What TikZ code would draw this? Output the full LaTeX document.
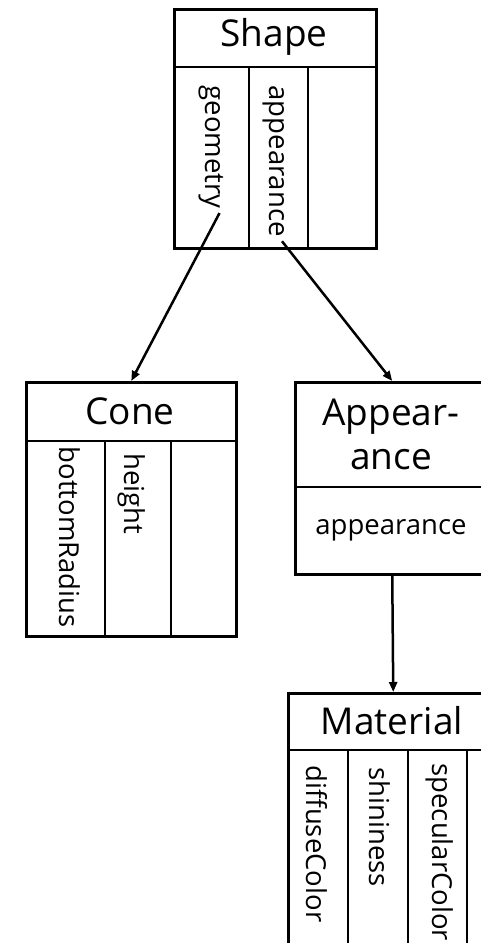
\documentclass[tikz,border=0pt]{standalone}
\usepackage{fontspec}
\setmainfont{Open Sans}
\usetikzlibrary{arrows.meta}

\begin{document}
\begin{tikzpicture}[x=1pt,y=-1pt,line width=2.5pt,
  box/.style={draw,rectangle,anchor=north west,inner sep=0pt},
  hdr/.style={font=\fontsize{37}{44}\selectfont,align=center},
  fld/.style={font=\fontsize{27.5}{32}\selectfont,rotate=-90,anchor=west},
  arr/.style={-{Triangle[length=10pt,width=8pt]}}]
\useasboundingbox (0,0) rectangle (481,943);
\clip (0,0) rectangle (481,943);
% Shape
\node[box,minimum width=202pt,minimum height=239pt] (shape) at (173,8) {};
\draw (173,67) -- (375,67);
\draw (249,67) -- (249,247);
\draw (308,67) -- (308,247);
\node[hdr] (shapetitle) at (274,37) {Shape};
\node[fld] (geom) at (211.5,81) {geometry};
\node[fld] (appr) at (274,81) {appearance};
% Cone
\node[box,minimum width=210pt,minimum height=254pt] (cone) at (25,381) {};
\draw (25,441) -- (235,441);
\draw (105,441) -- (105,635);
\draw (171,441) -- (171,635);
\node[hdr] (conetitle) at (130,411) {Cone};
\node[fld] (radius) at (70,442) {bottomRadius};
\node[fld] (height) at (132,449) {height};
% Appearance
\node[box,minimum width=194pt,minimum height=192pt] (appear) at (294,381) {};
\draw (294,487) -- (488,487);
\node[hdr] (appeartitle) at (391,434) {Appear-\\ance};
\node[hdr,font=\fontsize{27.5}{32}\selectfont] (apprfield) at (391,530) {appearance};
% Material
\node[box,minimum width=210pt,minimum height=268pt] (material) at (287,692) {};
\draw (287,750) -- (497,750);
\draw (348,750) -- (348,960);
\draw (408,750) -- (408,960);
\draw (467,750) -- (467,960);
\node[hdr] (mattitle) at (392,721) {Material};
\node[fld] (diffuse) at (317,761) {diffuseColor};
\node[fld] (shiny) at (380,763) {shininess};
\node[fld] (specular) at (440,759) {specularColor};
% links
\draw[arr] ([xshift=8pt]geom.east) -- (cone.north);
\draw[arr] ([xshift=8pt]appr.east) -- (appear.north);
\draw[arr] (appear.south) -- (material.north);
\end{tikzpicture}
\end{document}
